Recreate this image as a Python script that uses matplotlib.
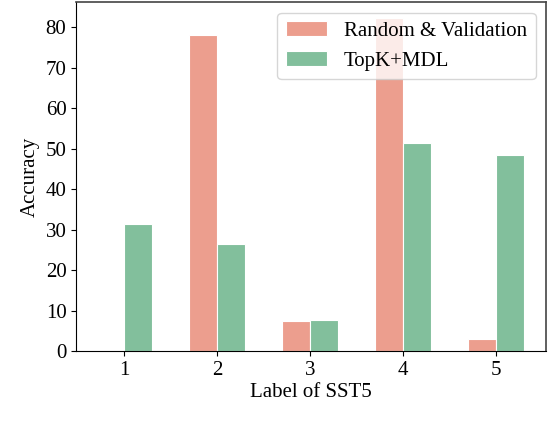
import matplotlib
matplotlib.use("Agg")
import matplotlib.pyplot as plt
import numpy as np

labels = ["1", "2", "3", "4", "5"]
random_val = [0.0, 78.2, 7.4, 82.2, 3.1]
topk_mdl = [31.5, 26.4, 7.6, 51.3, 48.4]

plt.rcParams['font.family'] = ['Liberation Serif', 'DejaVu Serif']

fig = plt.figure(figsize=(5.56, 4.34), dpi=100)
ax = fig.add_axes([0.137, 0.191, 0.845, 0.804])

x = np.arange(1, len(labels) + 1)
w = 0.3
ax.bar(x, random_val, width=-w, align='edge', color='#EC9E8E',
       edgecolor='white', linewidth=0.8, label='Random & Validation')
ax.bar(x, topk_mdl, width=w, align='edge', color='#82BF9C',
       edgecolor='white', linewidth=0.8, label='TopK+MDL')

ax.set_xlim(0.484, 5.54)
ax.set_ylim(0, 86.2)
ax.set_xticks(x)
ax.set_xticklabels(labels)
ax.set_yticks(np.arange(0, 81, 10))
ax.tick_params(labelsize=15)
ax.set_xlabel("Label of SST5", fontsize=15, labelpad=2)
ax.set_ylabel("Accuracy", fontsize=15, labelpad=4)

for s in ['top', 'right']:
    ax.spines[s].set_color('#444444')
    ax.spines[s].set_linewidth(1.2)

ax.legend(loc='upper right', fontsize=15, framealpha=0.8, borderaxespad=0.5)

fig.savefig("out.png", dpi=100)
